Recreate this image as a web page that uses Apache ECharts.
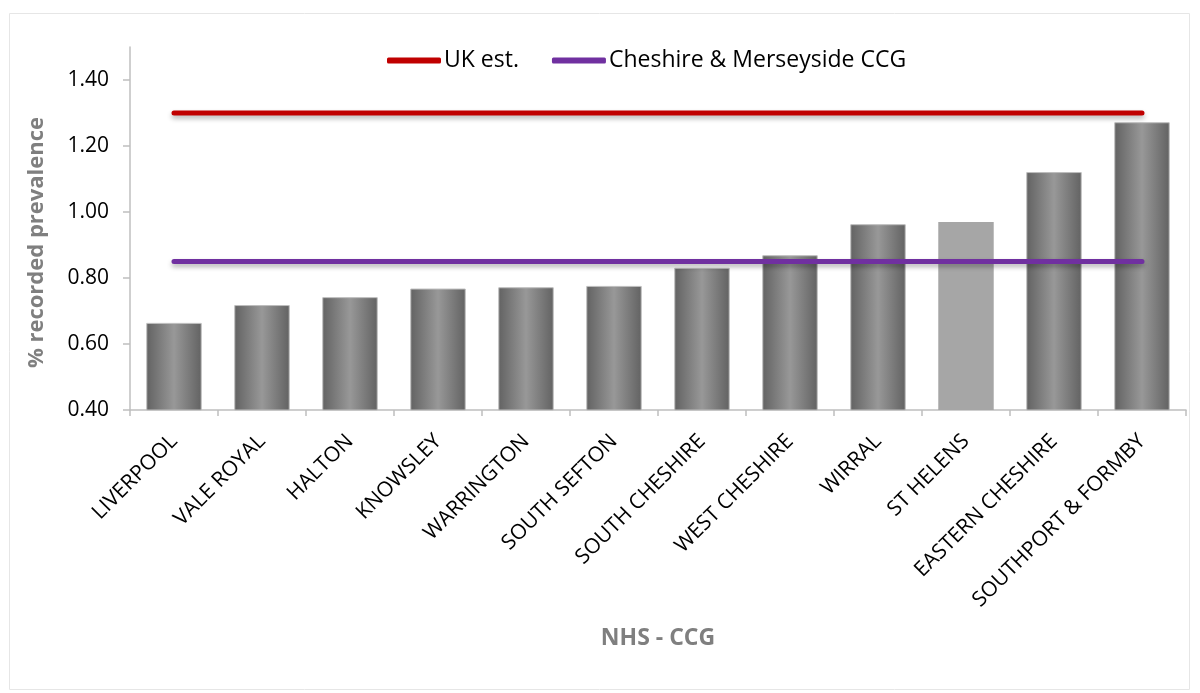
<!DOCTYPE html>
<html>
<head>
<meta charset="utf-8">
<script src="https://cdn.jsdelivr.net/npm/echarts@6/dist/echarts.min.js"></script>
<style>html,body{margin:0;padding:0;background:#fff}#c{width:1200px;height:693px}</style>
</head>
<body>
<div id="c"></div>
<script>
var categories = ["LIVERPOOL","VALE ROYAL","HALTON","KNOWSLEY","WARRINGTON","SOUTH SEFTON","SOUTH CHESHIRE","WEST CHESHIRE","WIRRAL","ST HELENS","EASTERN CHESHIRE","SOUTHPORT & FORMBY"];
var prevalence = [0.664,0.718,0.742,0.768,0.772,0.776,0.831,0.869,0.963,0.970,1.121,1.272];
var ukEst = [1.30,1.30,1.30,1.30,1.30,1.30,1.30,1.30,1.30,1.30,1.30,1.30];
var ccgAvg = [0.85,0.85,0.85,0.85,0.85,0.85,0.85,0.85,0.85,0.85,0.85,0.85];
var yTicks = [0.4,0.6,0.8,1.0,1.2,1.4];
var highlightCategory = "ST HELENS";

var FONT = "Open Sans";
var grad = {type:'linear',x:0,y:0,x2:1,y2:0,colorStops:[{offset:0,color:'#626262'},{offset:0.5,color:'#989898'},{offset:1,color:'#626262'}]};
var barData = prevalence.map(function(v,i){
  if (categories[i] === highlightCategory) {
    return {value:v,itemStyle:{color:'#a6a6a6',borderWidth:0}};
  }
  return v;
});

var chart = echarts.init(document.getElementById('c'), null, {renderer:'canvas'});
chart.setOption({
  animation:false,
  backgroundColor:'#fff',
  graphic:[{type:'rect',shape:{x:9.5,y:13.5,width:1180,height:676},style:{fill:'none',stroke:'#e6e6e6',lineWidth:1},z:-1}],
  legend:{
    top:44,left:382,
    itemWidth:54,itemHeight:6,itemGap:33,
    icon:'roundRect',
    textStyle:{fontFamily:FONT,fontSize:23,color:'#000',padding:[0,0,0,-2]},
    data:['UK est.','Cheshire & Merseyside CCG']
  },
  grid:{left:130,right:14,top:47,bottom:283,containLabel:false},
  xAxis:{
    type:'category',data:categories,boundaryGap:true,
    axisLine:{lineStyle:{color:'#bfbfbf',width:1.5}},
    axisTick:{show:true,length:6,lineStyle:{color:'#bfbfbf',width:1.5}},
    axisLabel:{rotate:45,fontFamily:FONT,fontSize:21,color:'#000',margin:28,interval:0},
    name:'NHS - CCG',nameLocation:'middle',nameGap:217,
    nameTextStyle:{fontFamily:FONT,fontSize:23,fontWeight:'bold',color:'#7f7f7f'}
  },
  yAxis:{
    type:'value',min:0.4,max:1.5,interval:0.2,
    axisLine:{show:true,lineStyle:{color:'#bfbfbf',width:1.5}},
    axisTick:{show:true,length:7,customValues:yTicks,lineStyle:{color:'#bfbfbf',width:1.5}},
    axisLabel:{customValues:yTicks,fontFamily:FONT,fontSize:21,color:'#000',margin:21,formatter:function(v){return v.toFixed(2);}},
    splitLine:{show:false},
    name:'% recorded prevalence',nameLocation:'middle',nameGap:82,nameRotate:90,
    nameTextStyle:{fontFamily:FONT,fontSize:22,fontWeight:'bold',color:'#7f7f7f',padding:[0,28,0,0]}
  },
  series:[
    {type:'bar',name:'Prevalence',data:barData,barCategoryGap:'37%',
     itemStyle:{color:grad,borderColor:'#bdbdbd',borderWidth:1},z:2},
    {type:'line',name:'UK est.',data:ukEst,showSymbol:false,symbol:'none',z:3,
     color:'#c00000',
     lineStyle:{color:'#c00000',width:5,cap:'round',shadowColor:'rgba(0,0,0,0.3)',shadowBlur:5,shadowOffsetY:3}},
    {type:'line',name:'Cheshire & Merseyside CCG',data:ccgAvg,showSymbol:false,symbol:'none',z:3,
     color:'#7030a0',
     lineStyle:{color:'#7030a0',width:5,cap:'round',shadowColor:'rgba(0,0,0,0.3)',shadowBlur:5,shadowOffsetY:3}}
  ]
});
</script>
</body>
</html>
